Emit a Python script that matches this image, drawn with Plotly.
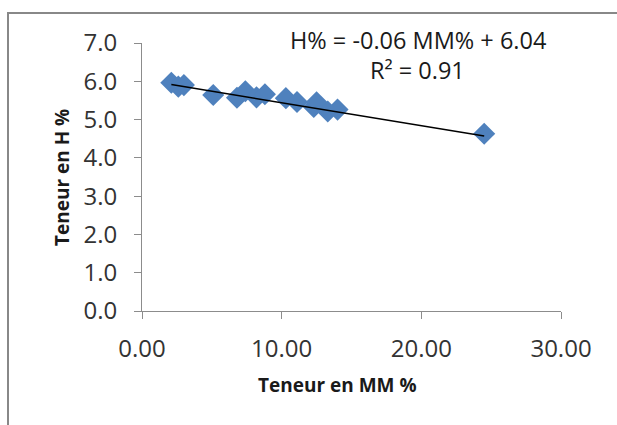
import numpy as np
import plotly.graph_objects as go

# Mineral matter content (%) and hydrogen content (%) of the samples
mm_pct = [2.1, 2.6, 3.0, 5.1, 6.8, 7.4, 8.2, 8.8, 10.3, 11.1, 12.3, 12.5, 13.3, 14.0, 24.5]
h_pct = [5.96, 5.86, 5.90, 5.64, 5.57, 5.74, 5.58, 5.66, 5.56, 5.46, 5.33, 5.45, 5.21, 5.26, 4.63]

# Linear trend as reported in the equation label
slope = -0.06
intercept = 6.04
r_squared = 0.91

x_ticks = [0, 10, 20, 30]
y_ticks = [0, 1, 2, 3, 4, 5, 6, 7]

W, H = 617, 425
ML, MR, MT, MB = 142, 56, 43, 114
pw, ph = W - ML - MR, H - MT - MB


def px_to_paper_x(px):
    return (px - ML) / pw


def px_to_paper_y(py):
    return (H - MB - py) / ph


fit_x = np.array([min(mm_pct), max(mm_pct)])
fit_y = slope * fit_x + intercept

fig = go.Figure()
fig.add_trace(go.Scatter(
    x=mm_pct, y=h_pct, mode="markers",
    marker=dict(symbol="diamond", size=17, color="#4F81BD",
                line=dict(width=0)),
    showlegend=False, hoverinfo="x+y",
))
fig.add_trace(go.Scatter(
    x=fit_x, y=fit_y, mode="lines",
    line=dict(color="black", width=1.5),
    showlegend=False, hoverinfo="skip",
))

tick_font = dict(family="Open Sans", size=24, color="#333333")
title_font = dict(family="Open Sans", size=19, color="#1a1a1a")

fig.update_xaxes(
    range=[0, 30], tickvals=x_ticks, tickformat=".2f",
    showline=True, linecolor="#8c8c8c", linewidth=1,
    ticks="outside", ticklen=7, tickcolor="#8c8c8c",
    showgrid=False, zeroline=False, tickfont=tick_font,
    ticklabelstandoff=9,
)
fig.update_yaxes(
    range=[0, 7], tickvals=y_ticks, tickformat=".1f",
    showline=True, linecolor="#8c8c8c", linewidth=1,
    ticks="outside", ticklen=7, tickcolor="#8c8c8c",
    showgrid=False, zeroline=False, tickfont=tick_font,
    ticklabelstandoff=12,
)

# Axis titles
fig.add_annotation(
    text="<b>Teneur en MM %</b>", xref="paper", yref="paper",
    x=px_to_paper_x(337), y=px_to_paper_y(385),
    showarrow=False, font=title_font, xanchor="center", yanchor="middle",
)
fig.add_annotation(
    text="<b>Teneur en H %</b>", xref="paper", yref="paper",
    x=px_to_paper_x(62), y=px_to_paper_y(178), textangle=-90,
    showarrow=False, font=title_font, xanchor="center", yanchor="middle",
)

eq_font = dict(family="Open Sans", size=23.5, color="#1a1a1a")
fig.add_annotation(
    text=f"H% = {slope:.2f} MM% + {intercept:.2f}",
    xref="paper", yref="paper", x=px_to_paper_x(418), y=px_to_paper_y(40),
    showarrow=False, font=eq_font, xanchor="center", yanchor="middle",
)
fig.add_annotation(
    text=f"R² = {r_squared:.2f}",
    xref="paper", yref="paper", x=px_to_paper_x(417), y=px_to_paper_y(70),
    showarrow=False, font=eq_font, xanchor="center", yanchor="middle",
)

# Chart-area frame (only its top and left edges fall inside the view)
fig.add_shape(
    type="rect", xref="paper", yref="paper",
    x0=px_to_paper_x(8), x1=px_to_paper_x(W + 20),
    y0=px_to_paper_y(H + 20), y1=px_to_paper_y(13),
    line=dict(color="#888888", width=2), fillcolor="rgba(0,0,0,0)",
    layer="above",
)

fig.update_layout(
    width=W, height=H,
    margin=dict(l=ML, r=MR, t=MT, b=MB, autoexpand=False),
    paper_bgcolor="white", plot_bgcolor="white",
)

fig.write_html("out.html")
